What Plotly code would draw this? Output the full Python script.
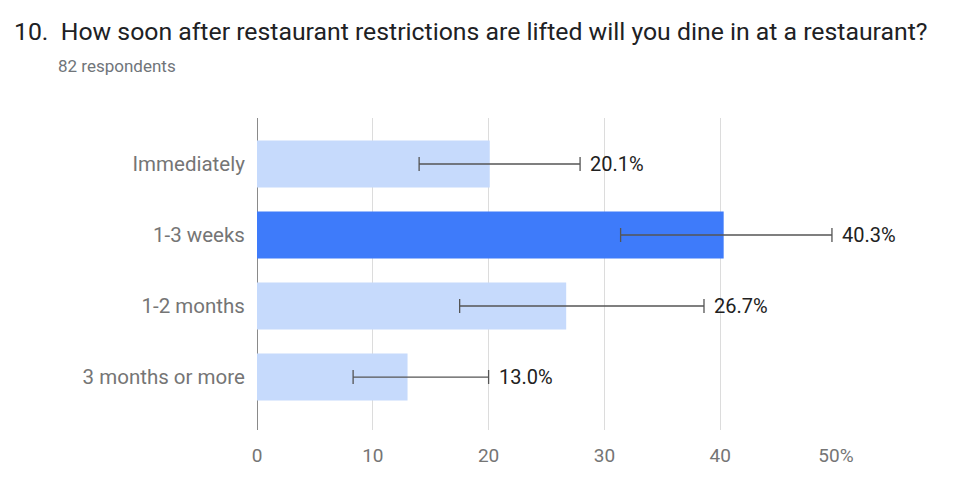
import plotly.graph_objects as go

# Survey answers, share of respondents (%) and the error bar bounds
answers = ['Immediately', '1-3 weeks', '1-2 months', '3 months or more']
pct = [20.1, 40.3, 26.7, 13.0]
err_low = [14.0, 31.4, 17.5, 8.3]
err_high = [27.9, 49.65, 38.6, 20.0]
tick_vals = [0, 10, 20, 30, 40, 50]
tick_text = ['0', '10', '20', '30', '40', '50%']

top = pct.index(max(pct))
colors = ['#3e7bfa' if i == top else '#c6dafc' for i in range(len(pct))]

# plot box in figure pixels (page has an 8px body margin)
L, T, W, H = 249, 110, 579, 312

fig = go.Figure()

fig.add_trace(go.Bar(
    y=answers,
    x=pct,
    orientation='h',
    width=0.66,
    marker=dict(color=colors, line=dict(width=0)),
    error_x=dict(
        type='data',
        symmetric=False,
        array=[h - p for h, p in zip(err_high, pct)],
        arrayminus=[p - l for p, l in zip(pct, err_low)],
        color='#555555',
        thickness=1.3,
        width=7,
    ),
    hoverinfo='skip',
))

# value labels sit just past the upper error bound
labels = [
    dict(x=h, y=a, text=f'{p:.1f}%', xref='x', yref='y',
         xanchor='left', yanchor='middle', xshift=8, showarrow=False,
         font=dict(family='Roboto', size=20, color='#212121'))
    for a, p, h in zip(answers, pct, err_high)
]

fig.update_layout(
    width=974,
    height=495,
    margin=dict(l=L, r=974 - L - W, t=T, b=495 - T - H),
    plot_bgcolor='white',
    paper_bgcolor='white',
    showlegend=False,
    font=dict(family='Roboto', color='#616161'),
    xaxis=dict(
        range=[0, 50],
        tickvals=tick_vals,
        ticktext=tick_text,
        showgrid=True,
        gridcolor='#dcdcdc',
        gridwidth=1,
        zeroline=True,
        zerolinecolor='#8a8a8a',
        zerolinewidth=1.3,
        ticks='outside',
        ticklen=8,
        tickcolor='rgba(0,0,0,0)',
        tickfont=dict(size=19, color='#757575'),
        fixedrange=True,
    ),
    yaxis=dict(
        categoryorder='array',
        categoryarray=answers,
        range=[3.746, -0.648],
        showgrid=False,
        ticks='outside',
        ticklen=7,
        tickcolor='rgba(0,0,0,0)',
        tickfont=dict(size=20.5, color='#757575'),
        fixedrange=True,
    ),
    annotations=labels + [
        dict(
            text='10.  How soon after restaurant restrictions are lifted will you dine in at a restaurant?',
            xref='paper', yref='paper',
            x=(4 - L) / W, y=1 + (T - 7) / H,
            xanchor='left', yanchor='top',
            showarrow=False,
            font=dict(family='Roboto', size=24.8, color='#202124'),
        ),
        dict(
            text='82 respondents',
            xref='paper', yref='paper',
            x=(48 - L) / W, y=1 + (T - 46) / H,
            xanchor='left', yanchor='top',
            showarrow=False,
            font=dict(family='Roboto', size=17, color='#70757a'),
        ),
    ],
)

fig.write_html('out.html')
